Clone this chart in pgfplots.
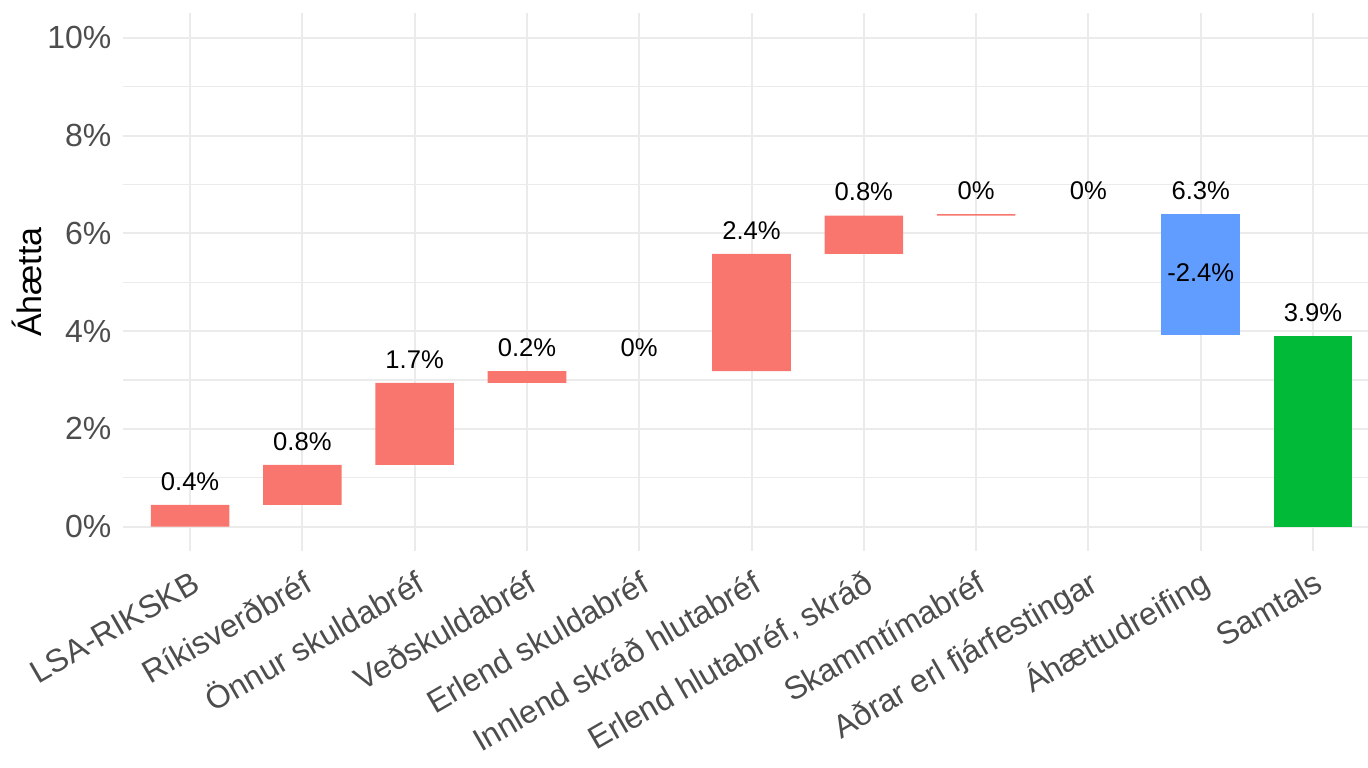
\documentclass[border=0pt]{standalone}
\usepackage{pgfplots}
\pgfplotsset{compat=1.18}
\usepackage{pgfplotstable}
\usepackage{fontspec}
\setmainfont{Liberation Sans}
\definecolor{wfred}{HTML}{F8766D}
\definecolor{wfblue}{HTML}{619CFF}
\definecolor{wfgreen}{HTML}{00BA38}
\definecolor{gridc}{HTML}{EBEBEB}
\definecolor{tickc}{HTML}{4D4D4D}

\pgfplotstableread{
x base red blue green top lab
1 0 0.445 0 0 0.445 {0.4\%}
2 0.445 0.815 0 0 1.26 {0.8\%}
3 1.26 1.68 0 0 2.94 {1.7\%}
4 2.94 0.24 0 0 3.18 {0.2\%}
5 3.18 0 0 0 3.18 {0\%}
6 3.18 2.40 0 0 5.58 {2.4\%}
7 5.58 0.78 0 0 6.36 {0.8\%}
8 6.36 0.03 0 0 6.39 {0\%}
9 6.39 0 0 0 6.39 {0\%}
10 3.91 0 2.48 0 6.39 {6.3\%}
11 0 0 0 3.90 3.90 {3.9\%}
}\wf

\pgfplotsset{
  panel/.style={
    at={(0,0)}, anchor=south west,
    scale only axis,
    width=622.65pt, height=268.85pt,
    xmin=0.4, xmax=11.49,
    ymin=-0.5, ymax=10.5,
  },
  vallab/.style={
    draw=none, mark=none,
    nodes near coords, point meta=explicit symbolic,
    nodes near coords align={center},
    every node near coord/.append style={inner sep=0pt, yshift=#1, font=\fontsize{12.8}{15}\selectfont, text=black},
  },
}

\begin{document}
\begin{tikzpicture}
\useasboundingbox (-61.35pt,-108pt) rectangle (622.65pt,275.5pt);
\begin{axis}[
  panel,
  ybar stacked,
  bar width=0.7,
  axis line style={draw=none},
  major tick length=0pt, minor tick length=0pt,
  xtick={1,...,11},
  xticklabels={LSA-RIKSKB,Ríkisverðbréf,Önnur skuldabréf,Veðskuldabréf,Erlend skuldabréf,Innlend skráð hlutabréf,{Erlend hlutabréf, skráð},Skammtímabréf,Aðrar erl fjárfestingar,Áhættudreifing,Samtals},
  ytick={0,2,4,6,8,10},
  yticklabels={0\%,2\%,4\%,6\%,8\%,10\%},
  minor ytick={1,3,5,7,9},
  xmajorgrids, ymajorgrids, yminorgrids,
  major grid style={gridc, line width=1pt},
  minor grid style={gridc, line width=0.6pt},
  xticklabel style={xshift=0pt, yshift=-9pt, rotate=30, anchor=north east, inner sep=0pt, text height=11.7pt, text depth=0pt, font=\fontsize{16}{19}\selectfont, text=tickc},
  yticklabel style={inner sep=0pt, anchor=east, xshift=-5.5pt, font=\fontsize{16}{19}\selectfont, text=tickc},
  ylabel={Áhætta},
  ylabel style={at={(axis description cs:-0.0650,0.5)}, anchor=base, font=\fontsize{17}{20}\selectfont, text=black},
]
\addplot[draw=none, fill=none] table[x=x, y=base] {\wf};
\addplot[draw=none, fill=wfred] table[x=x, y=red] {\wf};
\addplot[draw=none, fill=wfblue] table[x=x, y=blue] {\wf};
\addplot[draw=none, fill=wfgreen] table[x=x, y=green] {\wf};
\end{axis}
\begin{axis}[panel, hide axis, clip=false]
\addplot[vallab=11.75pt] table[x=x, y=top, meta=lab] {\wf};
\addplot[vallab=0pt] coordinates {(10,5.20) [-2.4\%]};
\end{axis}
\end{tikzpicture}
\end{document}
